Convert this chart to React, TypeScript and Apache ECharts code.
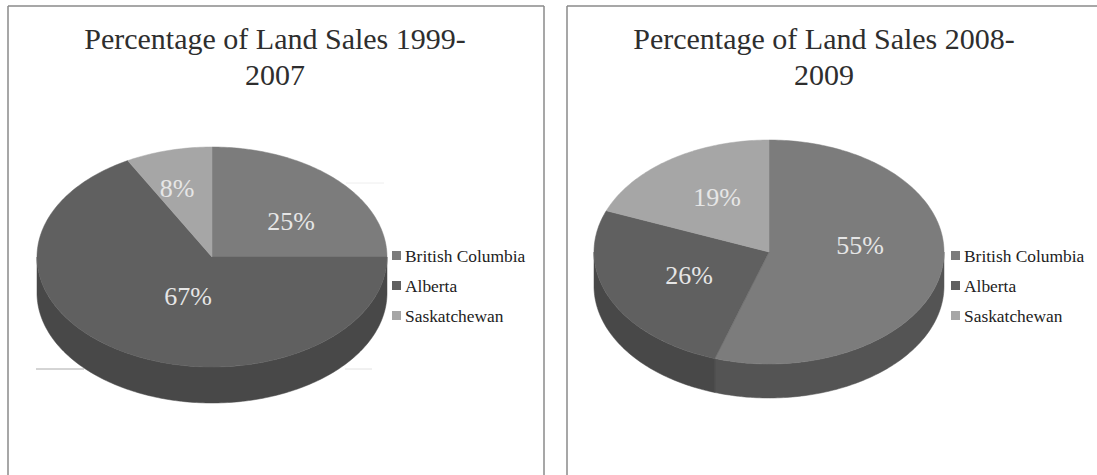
import React, { useEffect, useRef } from "react";
import * as echarts from "echarts";

// Provinces shown in both pies
const categories = ["British Columbia", "Alberta", "Saskatchewan"];
// Share of land sales per province, percent
const sales1999to2007 = [25, 67, 8];
const sales2008to2009 = [55, 26, 19];
const titles = ["Percentage of Land Sales 1999-\n2007", "Percentage of Land Sales 2008-\n2009"];

const topColors = ["#7c7c7c", "#606060", "#a6a6a6"];
const sideColors = ["#545454", "#484848", "#777777"];
const SERIF = "'Liberation Serif', 'Times New Roman', serif";

// Placement of each elliptical pie and its hand-placed value labels
const pies = [
  {
    values: sales1999to2007, title: titles[0], titleX: 275,
    cx: 212, cy: 257, rx: 175, ry: 110, depth: 36, legendX: 392,
    labels: [[291, 221], [188, 296], [177, 188]],
  },
  {
    values: sales2008to2009, title: titles[1], titleX: 824,
    cx: 769, cy: 252, rx: 175, ry: 112, depth: 34, legendX: 951,
    labels: [[860, 245], [689, 275], [717, 197]],
  },
];

type Pie = (typeof pies)[number];

// Point on the rim, angle in degrees clockwise from twelve o'clock
function rim(p: Pie, deg: number, drop = 0): number[] {
  const a = (deg * Math.PI) / 180;
  return [p.cx + p.rx * Math.sin(a), p.cy - p.ry * Math.cos(a) + drop];
}

function arc(p: Pie, from: number, to: number, drop = 0): number[][] {
  const pts: number[][] = [];
  const steps = Math.max(2, Math.ceil(Math.abs(to - from)));
  for (let i = 0; i <= steps; i++) pts.push(rim(p, from + ((to - from) * i) / steps, drop));
  return pts;
}

function sliceSeries(p: Pie, index: number) {
  const total = p.values.reduce((s, v) => s + v, 0);
  const before = p.values.slice(0, index).reduce((s, v) => s + v, 0);
  const start = (before / total) * 360;
  const end = ((before + p.values[index]) / total) * 360;
  return {
    type: "custom",
    name: categories[index],
    coordinateSystem: "none",
    silent: true,
    itemStyle: { color: topColors[index] },
    data: [p.values[index]],
    renderItem: () => {
      const children: any[] = [];
      // The wall of the disc shows only on its lower half
      const wallFrom = Math.max(start, 90);
      const wallTo = Math.min(end, 270);
      if (wallTo > wallFrom) {
        children.push({
          type: "polygon",
          z2: 1,
          shape: {
            points: [...arc(p, wallFrom, wallTo), ...arc(p, wallTo, wallFrom, p.depth)],
          },
          style: { fill: sideColors[index], stroke: sideColors[index], lineWidth: 0.5 },
        });
      }
      children.push({
        type: "polygon",
        z2: 2,
        shape: { points: [[p.cx, p.cy], ...arc(p, start, end)] },
        style: { fill: topColors[index], stroke: topColors[index], lineWidth: 0.5 },
      });
      children.push({
        type: "text",
        z2: 3,
        x: p.labels[index][0],
        y: p.labels[index][1],
        style: {
          text: `${p.values[index]}%`,
          fill: "#e6e6e6",
          font: `26px ${SERIF}`,
          align: "center",
          verticalAlign: "middle",
        },
      });
      return { type: "group", children };
    },
  };
}

const frameLine = (x1: number, y1: number, x2: number, y2: number, stroke = "#8a8a8a", lineWidth = 1.5) => ({
  type: "line",
  silent: true,
  shape: { x1, y1, x2, y2 },
  style: { stroke, lineWidth },
});

const option = {
  animation: false,
  backgroundColor: "#ffffff",
  title: pies.map((p) => ({
    text: p.title,
    left: p.titleX,
    top: 20,
    textAlign: "center",
    padding: 0,
    textStyle: {
      fontFamily: SERIF,
      fontWeight: "normal",
      fontSize: 30,
      lineHeight: 36,
      color: "#2e2e2e",
    },
  })),
  legend: pies.map((p) => ({
    orient: "vertical",
    left: p.legendX,
    top: 247,
    padding: 0,
    icon: "rect",
    itemWidth: 9,
    itemHeight: 9,
    itemGap: 13,
    selectedMode: false,
    data: categories,
    textStyle: { fontFamily: SERIF, fontSize: 17.4, color: "#222222", padding: [0, 0, 0, -1] },
  })),
  graphic: [
    // Panel frames, open at the lower edge
    frameLine(8, 6, 8, 475),
    frameLine(8, 6, 544, 6),
    frameLine(544, 6, 544, 475),
    frameLine(567, 6, 567, 475),
    frameLine(567, 6, 1097, 6),
    // Stray plot-area edges around the first pie
    frameLine(36, 369, 84, 369, "#aaaaaa", 1),
    frameLine(345, 369, 372, 369, "#e2e2e2", 1),
    frameLine(346, 183, 384, 183, "#eeeeee", 1),
  ],
  series: pies.flatMap((p) => categories.map((_, i) => sliceSeries(p, i))),
};

export default function App() {
  const ref = useRef<HTMLDivElement>(null);
  useEffect(() => {
    document.body.style.margin = "0";
    const chart = echarts.init(ref.current!, undefined, { renderer: "svg" });
    chart.setOption(option as any);
    return () => chart.dispose();
  }, []);
  return <div ref={ref} style={{ width: 1097, height: 475 }} />;
}
